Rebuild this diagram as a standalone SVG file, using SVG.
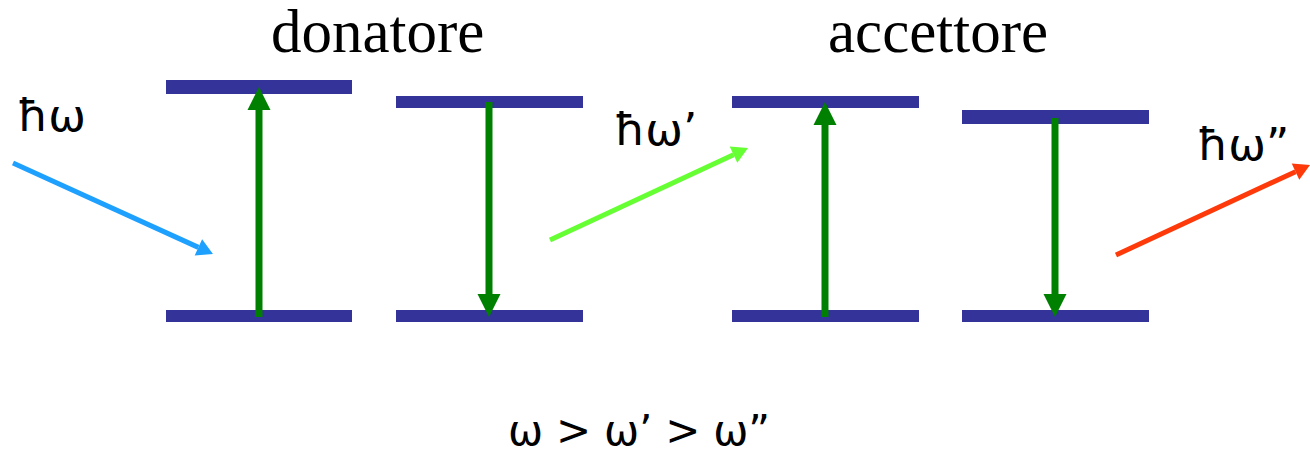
<svg xmlns="http://www.w3.org/2000/svg" width="1310" height="454" viewBox="0 0 1310 454">
  <style>
    .bar { fill: #333399; }
    .title { font-family: "Liberation Serif", "Times New Roman", serif; font-size: 61px; fill: #000; }
    .lbl { font-family: "DejaVu Sans", Verdana, sans-serif; font-size: 45px; fill: #000; }
    .rel { font-family: "DejaVu Sans", sans-serif; font-size: 42px; fill: #000; }
    .tr { stroke: #008000; stroke-width: 7; fill: none; }
    .ph { stroke-width: 5; fill: none; }
  </style>
  <defs>
    <marker id="hg" markerUnits="userSpaceOnUse" markerWidth="23" markerHeight="23" refX="0" refY="11.5" orient="auto" overflow="visible">
      <path d="M0,0 L23,11.5 L0,23 z" fill="#008000"/>
    </marker>
    <marker id="hb" markerUnits="userSpaceOnUse" markerWidth="18" markerHeight="18" refX="0" refY="9" orient="auto" overflow="visible">
      <path d="M0,0 L16,9 L0,18 z" fill="#1EA0FF"/>
    </marker>
    <marker id="hl" markerUnits="userSpaceOnUse" markerWidth="18" markerHeight="18" refX="0" refY="9" orient="auto" overflow="visible">
      <path d="M0,0 L16,9 L0,18 z" fill="#66FF33"/>
    </marker>
    <marker id="hr" markerUnits="userSpaceOnUse" markerWidth="18" markerHeight="18" refX="0" refY="9" orient="auto" overflow="visible">
      <path d="M0,0 L16,9 L0,18 z" fill="#FF3A0A"/>
    </marker>
  </defs>
  <rect width="1310" height="454" fill="#fff"/>

  <text class="title" x="271" y="52">donatore</text>
  <text class="title" x="828" y="52">accettore</text>

  <g id="donor-upper-1"><rect class="bar" x="166" y="80" width="186" height="14"/></g>
  <g id="donor-lower-1"><rect class="bar" x="166" y="310" width="186" height="12"/></g>
  <g id="donor-upper-2"><rect class="bar" x="396" y="96" width="187" height="12"/></g>
  <g id="donor-lower-2"><rect class="bar" x="396" y="310" width="187" height="12"/></g>
  <g id="acceptor-upper-1"><rect class="bar" x="732" y="96" width="187" height="12"/></g>
  <g id="acceptor-lower-1"><rect class="bar" x="732" y="310" width="187" height="12"/></g>
  <g id="acceptor-upper-2"><rect class="bar" x="962" y="110" width="187" height="14"/></g>
  <g id="acceptor-lower-2"><rect class="bar" x="962" y="310" width="187" height="12"/></g>

  <g id="connectors">
    <line class="tr" x1="259" y1="317" x2="259" y2="110" marker-end="url(#hg)"/>
    <line class="tr" x1="489" y1="102" x2="489" y2="294" marker-end="url(#hg)"/>
    <line class="tr" x1="825" y1="317" x2="825" y2="125" marker-end="url(#hg)"/>
    <line class="tr" x1="1055" y1="118" x2="1055" y2="294" marker-end="url(#hg)"/>
    <line class="ph" stroke="#1EA0FF" x1="13" y1="163" x2="198.4" y2="247.4" marker-end="url(#hb)"/>
    <line class="ph" stroke="#66FF33" x1="550" y1="240" x2="733.5" y2="154.7" marker-end="url(#hl)"/>
    <line class="ph" stroke="#FF3A0A" x1="1116" y1="255" x2="1295.5" y2="171.7" marker-end="url(#hr)"/>
  </g>

  <g id="label-w"><text class="lbl" x="17" y="131">ħω</text></g>
  <g id="label-w1"><text class="lbl" x="614" y="145">ħω’</text></g>
  <g id="label-w2"><text class="lbl" x="1197" y="160">ħω”</text></g>

  <text class="rel" x="508" y="445" textLength="262" lengthAdjust="spacing">ω &gt; ω’ &gt; ω”</text>
</svg>
